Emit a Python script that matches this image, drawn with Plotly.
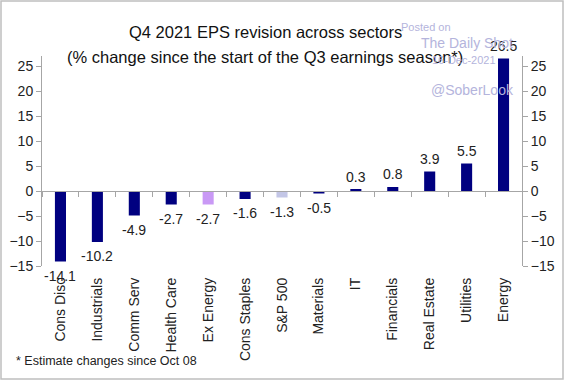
import plotly.graph_objects as go

categories = ["Cons Disc", "Industrials", "Comm Serv", "Health Care", "Ex Energy",
              "Cons Staples", "S&P 500", "Materials", "IT", "Financials",
              "Real Estate", "Utilities", "Energy"]
values = [-14.1, -10.2, -4.9, -2.7, -2.7, -1.6, -1.3, -0.5, 0.3, 0.8, 3.9, 5.5, 26.5]
bar_colors = ["#000080", "#000080", "#000080", "#000080", "#C999F5",
              "#000080", "#C3C6E6", "#000080", "#000080", "#000080",
              "#000080", "#000080", "#000080"]
y_ticks = [-15, -10, -5, 0, 5, 10, 15, 20, 25]
y_range = [-15, 27]

font_family = "Liberation Sans, Arial, sans-serif"
text_color = "#222222"
axis_color = "#A6A6A6"
wm = "#B4B4DC"

fig = go.Figure()
fig.add_trace(go.Bar(
    x=categories, y=values,
    marker=dict(color=bar_colors, line=dict(width=0)),
    width=0.3,
    showlegend=False,
))
# invisible trace for right axis
fig.add_trace(go.Scatter(x=categories, y=values, yaxis="y2", mode="markers",
                         marker=dict(opacity=0), showlegend=False, hoverinfo="skip"))
# invisible trace for zero-line axis with ticks
fig.add_trace(go.Scatter(x=categories, y=values, xaxis="x2", mode="markers",
                         marker=dict(opacity=0), showlegend=False, hoverinfo="skip"))

zero_pos = (0 - y_range[0]) / (y_range[1] - y_range[0])

fig.update_layout(
    width=564, height=380,
    margin=dict(l=42, r=42, t=56, b=114, autoexpand=False),
    paper_bgcolor="white", plot_bgcolor="rgba(0,0,0,0)",
    font=dict(family=font_family, size=14, color=text_color),
    xaxis=dict(
        type="category", categoryorder="array", categoryarray=categories,
        range=[-0.5, len(categories) - 0.5], automargin=False,
        showline=False, showgrid=False, zeroline=False,
        ticks="", ticklabelstandoff=8, tickangle=-90, tickfont=dict(size=14, color=text_color),
    ),
    xaxis2=dict(
        type="category", categoryorder="array", categoryarray=categories,
        range=[-0.5, len(categories) - 0.5], automargin=False,
        overlaying="x", anchor="free", position=zero_pos,
        showline=True, linecolor=axis_color, linewidth=1,
        ticks="outside", tickson="boundaries", ticklen=5, tickcolor=axis_color,
        showticklabels=False, showgrid=False, zeroline=False,
    ),
    yaxis=dict(
        range=y_range, tickvals=y_ticks, showgrid=False, zeroline=False, automargin=False,
        showline=True, linecolor=axis_color, linewidth=1,
        ticks="outside", ticklen=5, tickcolor=axis_color,
        tickfont=dict(size=14, color=text_color),
    ),
    yaxis2=dict(
        range=y_range, tickvals=y_ticks, overlaying="y", side="right", automargin=False,
        showgrid=False, zeroline=False,
        showline=True, linecolor=axis_color, linewidth=1,
        ticks="outside", ticklen=5, tickcolor=axis_color,
        tickfont=dict(size=14, color=text_color),
    ),
)

# value labels
for c, v in zip(categories, values):
    fig.add_annotation(x=c, y=v, xref="x", yref="y", text=f"{v:.1f}", showarrow=False,
                       yanchor="bottom" if v >= 0 else "top", yshift=3 if v >= 0 else -4,
                       font=dict(size=14, color=text_color, family=font_family))

def px_x(px):
    return (px - 42) / 480

def px_y(py):
    return (266 - py) / 210

# title, two lines
for txt, cy in [("Q4 2021 EPS revision across sectors", 32),
                ("(% change since the start of the Q3 earnings season*)", 57)]:
    fig.add_annotation(text=txt, xref="paper", yref="paper", x=px_x(265), y=px_y(cy),
                       xanchor="center", yanchor="middle", showarrow=False,
                       font=dict(size=16.5, color="#111111", family=font_family))

fig.add_annotation(
    text="* Estimate changes since Oct 08", xref="paper", yref="paper",
    x=px_x(14), y=px_y(361), xanchor="left", yanchor="middle",
    showarrow=False, font=dict(size=12.5, color=text_color, family=font_family),
)
for txt, xx, yy, sz in [("Posted on", 426, 27, 11), ("The Daily Shot", 467, 43, 14),
                        ("16-Dec-2021", 464, 60, 11), ("@SoberLook", 472, 90, 14)]:
    fig.add_annotation(text=txt, xref="paper", yref="paper",
                       x=px_x(xx), y=px_y(yy), xanchor="center", yanchor="middle",
                       showarrow=False, font=dict(size=sz, color=wm, family=font_family))

fig.add_shape(type="rect", xref="paper", yref="paper",
              x0=px_x(1), x1=px_x(563), y0=px_y(379), y1=px_y(1),
              line=dict(color="#BFBFBF", width=1.5), fillcolor="rgba(0,0,0,0)", layer="below")

fig.write_html("out.html", config={"displayModeBar": False},
               post_script="document.body.style.margin='0';document.body.style.overflow='hidden';")
